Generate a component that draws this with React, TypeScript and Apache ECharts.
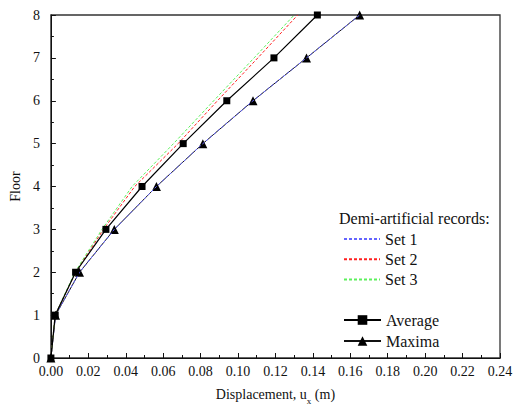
import React, { useEffect, useRef } from "react";
import * as echarts from "echarts";

const floors = [0, 1, 2, 3, 4, 5, 6, 7, 8];
const set1 = [0, 0.0025, 0.0153, 0.0339, 0.0564, 0.0812, 0.108, 0.1366, 0.165];
const set2 = [0, 0.0023, 0.0132, 0.0281, 0.0448, 0.068, 0.089, 0.1106, 0.1319];
const set3 = [0, 0.0023, 0.0128, 0.0273, 0.0434, 0.0655, 0.087, 0.1086, 0.130];
const average = [0, 0.0023, 0.0132, 0.0294, 0.0487, 0.0707, 0.094, 0.1192, 0.1424];
const maxima = [0, 0.0025, 0.0153, 0.0339, 0.0564, 0.0812, 0.108, 0.1366, 0.165];
const xTicks = ["0.00", "0.02", "0.04", "0.06", "0.08", "0.10", "0.12", "0.14", "0.16", "0.18", "0.20", "0.22", "0.24"];

const FONT = "Liberation Serif";

const pairs = (xs: number[]) => xs.map((x, i) => [x, floors[i]]);

export default function App() {
  const ref = useRef<HTMLDivElement>(null);
  useEffect(() => {
    if (!ref.current) return;
    const chart = echarts.init(ref.current, null, { renderer: "svg" });
    const dashed = (name: string, data: number[], color: string) => ({
      name,
      type: "line",
      data: pairs(data),
      symbol: "none",
      lineStyle: { color, width: 1, type: [3, 2] },
      itemStyle: { color },
      z: 3,
    });
    const legendText = { fontFamily: FONT, fontSize: 16, color: "#111" };
    chart.setOption({
      animation: false,
      backgroundColor: "#fff",
      textStyle: { fontFamily: FONT },
      grid: { left: 45, top: 15, right: 17, bottom: 54, show: true, borderColor: "#333", borderWidth: 1.3 },
      legend: [
        {
          data: ["Set 1", "Set 2", "Set 3"],
          orient: "vertical",
          left: 338,
          top: 226,
          itemWidth: 36,
          itemHeight: 12,
          itemGap: 4.3,
          itemStyle: { color: "rgba(0,0,0,0)", borderWidth: 0 },
          textStyle: legendText,
        },
        {
          data: ["Average", "Maxima"],
          orient: "vertical",
          left: 338,
          top: 307,
          itemWidth: 37,
          itemHeight: 12,
          itemGap: 5,
          textStyle: legendText,
        },
      ],
      graphic: [
        {
          type: "text",
          left: 339,
          top: 210,
          style: { text: "Demi-artificial records:", fontFamily: FONT, fontSize: 16, fill: "#111" },
        },
      ],
      xAxis: {
        type: "value",
        min: 0,
        max: 0.24,
        interval: 0.02,
        name: "Displacement, u{sub|x} (m)",
        nameLocation: "middle",
        nameGap: 26,
        nameTextStyle: {
          fontFamily: FONT,
          fontSize: 14,
          color: "#111",
          rich: { sub: { fontFamily: FONT, fontSize: 9, color: "#111", padding: [12, 0, 0, 0] } },
        },
        axisLine: { lineStyle: { color: "#111" } },
        axisTick: { inside: true, length: 5, lineStyle: { color: "#111" } },
        minorTick: { show: true, splitNumber: 2, length: 3, lineStyle: { color: "#111" } },
        splitLine: { show: false },
        axisLabel: {
          margin: 6,
          fontFamily: FONT,
          fontSize: 14,
          color: "#111",
          formatter: (v: number) => xTicks[Math.round(v / 0.02)] ?? v.toFixed(2),
        },
      },
      yAxis: {
        type: "value",
        min: 0,
        max: 8,
        interval: 1,
        name: "Floor",
        nameLocation: "middle",
        nameGap: 24,
        nameTextStyle: { fontFamily: FONT, fontSize: 14, color: "#111" },
        axisLine: { show: true, lineStyle: { color: "#111" } },
        axisTick: { show: true, inside: true, length: 5, lineStyle: { color: "#111" } },
        minorTick: { show: true, splitNumber: 2, length: 3, lineStyle: { color: "#111" } },
        splitLine: { show: false },
        axisLabel: { margin: 11, fontFamily: FONT, fontSize: 14, color: "#111" },
      },
      series: [
        {
          name: "Maxima",
          type: "line",
          data: pairs(maxima),
          symbol: "triangle",
          symbolSize: 9,
          lineStyle: { color: "#111", width: 1 },
          itemStyle: { color: "#000" },
          z: 2,
        },
        dashed("Set 1", set1, "#6464ff"),
        dashed("Set 2", set2, "#ff2020"),
        dashed("Set 3", set3, "#5cf05c"),
        {
          name: "Average",
          type: "line",
          data: pairs(average),
          symbol: "rect",
          symbolSize: 7,
          lineStyle: { color: "#000", width: 1.2 },
          itemStyle: { color: "#000" },
          z: 4,
        },
      ],
    });
    return () => chart.dispose();
  }, []);
  return <div ref={ref} style={{ width: 517, height: 412, position: "absolute", left: 0, top: 0 }} />;
}
